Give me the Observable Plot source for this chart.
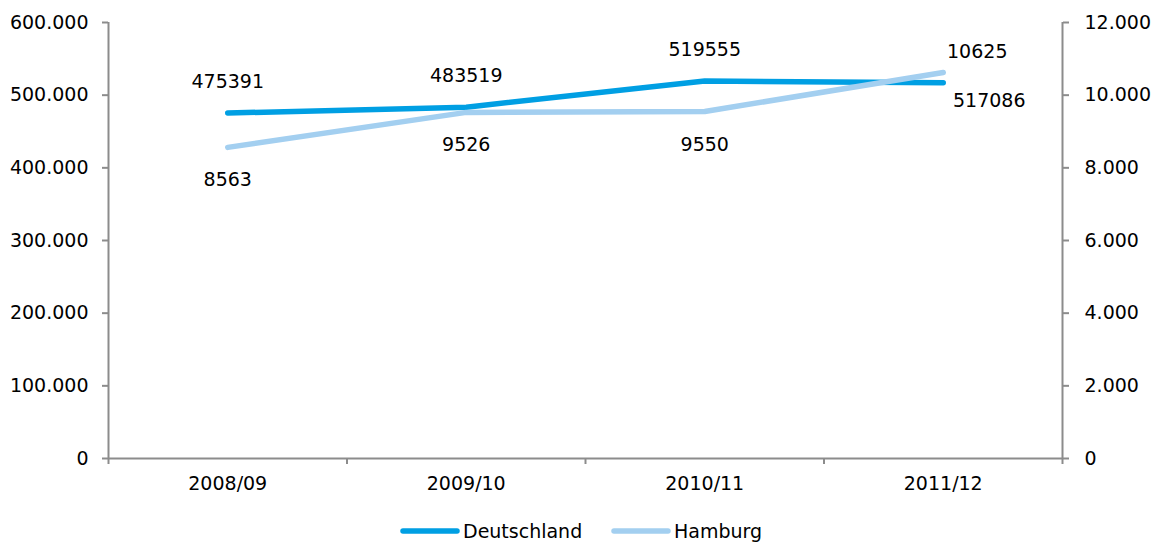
<!DOCTYPE html>
<html>
<head>
<meta charset="utf-8">
<script src="https://cdn.jsdelivr.net/npm/d3@7"></script>
<script src="https://cdn.jsdelivr.net/npm/@observablehq/plot@0.6"></script>
<style>
  html, body { margin: 0; padding: 0; background: #fff; }
  body { font-family: "DejaVu Sans", Verdana, sans-serif; }
  #wrap { position: relative; width: 1165px; height: 543px; }
  #legend { position: absolute; left: 0; top: 500px; width: 1165px; height: 43px; font-size: 19px; color: #000; }
  .item { position: absolute; top: 18px; display: flex; align-items: center; height: 26px; }
  .item svg { display: block; margin-right: 3px; }
</style>
</head>
<body>
<div id="wrap">
  <div id="chart"></div>
  <div id="legend"></div>
</div>
<script>
// School years on the x axis
const years = ["2008/09", "2009/10", "2010/11", "2011/12"];
// Germany (left axis)
const deutschland = [475391, 483519, 519555, 517086];
// Hamburg (right axis)
const hamburg = [8563, 9526, 9550, 10625];
// Axis ticks
const leftTicks = [0, 100000, 200000, 300000, 400000, 500000, 600000];
const rightTicks = [0, 2000, 4000, 6000, 8000, 10000, 12000];

const colorDE = "#009fe3";
const colorHH = "#a3cff0";
const axisGray = "#8c8c8c";

// Right axis spans 0–12.000 against the left 0–600.000
const ratio = 600000 / 12000;

const de = d3.formatLocale({decimal: ",", thousands: ".", grouping: [3], currency: ["", "€"]});
const fmt = de.format(",d");

const rowsDE = deutschland.map((v, i) => ({i, v}));
const rowsHH = hamburg.map((v, i) => ({i, v, y: v * ratio}));

const font = "DejaVu Sans, Verdana, sans-serif";

const chart = Plot.plot({
  width: 1165,
  height: 500,
  marginTop: 22,
  marginBottom: 42,
  marginLeft: 108,
  marginRight: 103,
  style: {fontFamily: font, fontSize: "19px", color: "#000", background: "#fff"},
  x: {domain: [-0.5, years.length - 0.5], axis: null},
  y: {domain: [0, 600000], axis: null},
  marks: [
    // category boundary ticks on the x axis
    Plot.axisX({ticks: d3.range(-0.5, years.length), tickSize: 6, tickFormat: () => "", label: null, stroke: axisGray, strokeWidth: 2}),
    // category labels
    Plot.axisX({ticks: d3.range(years.length), tickSize: 0, tickPadding: 18, tickFormat: i => years[i], label: null, fill: "#000"}),
    // left axis
    Plot.axisY({anchor: "left", ticks: leftTicks, tickSize: 6, tickPadding: 14, tickFormat: fmt, label: null, stroke: axisGray, strokeWidth: 2, fill: "#000"}),
    // right axis (Hamburg scale)
    Plot.axisY({anchor: "right", ticks: rightTicks.map(t => t * ratio), tickSize: 6, tickPadding: 16, tickFormat: d => fmt(d / ratio), label: null, stroke: axisGray, strokeWidth: 2, fill: "#000"}),
    // axis lines
    Plot.ruleX([-0.5, years.length - 0.5], {stroke: axisGray, strokeWidth: 2}),
    Plot.ruleY([0], {stroke: axisGray, strokeWidth: 2}),
    // series
    Plot.line(rowsDE, {x: "i", y: "v", stroke: colorDE, strokeWidth: 5.5, strokeLinecap: "round", strokeLinejoin: "round"}),
    Plot.line(rowsHH, {x: "i", y: "y", stroke: colorHH, strokeWidth: 5.5, strokeLinecap: "round", strokeLinejoin: "round"}),
    // value labels, Germany
    Plot.text(rowsDE.slice(0, 3), {x: "i", y: "v", text: d => String(d.v), dy: -31, fill: "#000"}),
    Plot.text(rowsDE.slice(3), {x: "i", y: "v", text: d => String(d.v), dx: 46, dy: 18, fill: "#000"}),
    // value labels, Hamburg
    Plot.text(rowsHH.slice(0, 3), {x: "i", y: "y", text: d => String(d.v), dy: 33, fill: "#000"}),
    Plot.text(rowsHH.slice(3), {x: "i", y: "y", text: d => String(d.v), dx: 34, dy: -21, fill: "#000"})
  ]
});
document.getElementById("chart").appendChild(chart);

// Legend
const legend = document.getElementById("legend");
const entries = [
  {name: "Deutschland", color: colorDE, left: 400},
  {name: "Hamburg", color: colorHH, left: 611}
];
for (const e of entries) {
  const item = document.createElement("div");
  item.className = "item";
  item.style.left = e.left + "px";
  item.innerHTML = `<svg width="60" height="10"><line x1="3" y1="5" x2="57" y2="5" stroke="${e.color}" stroke-width="5.5" stroke-linecap="round"/></svg><span>${e.name}</span>`;
  legend.appendChild(item);
}
</script>
</body>
</html>
